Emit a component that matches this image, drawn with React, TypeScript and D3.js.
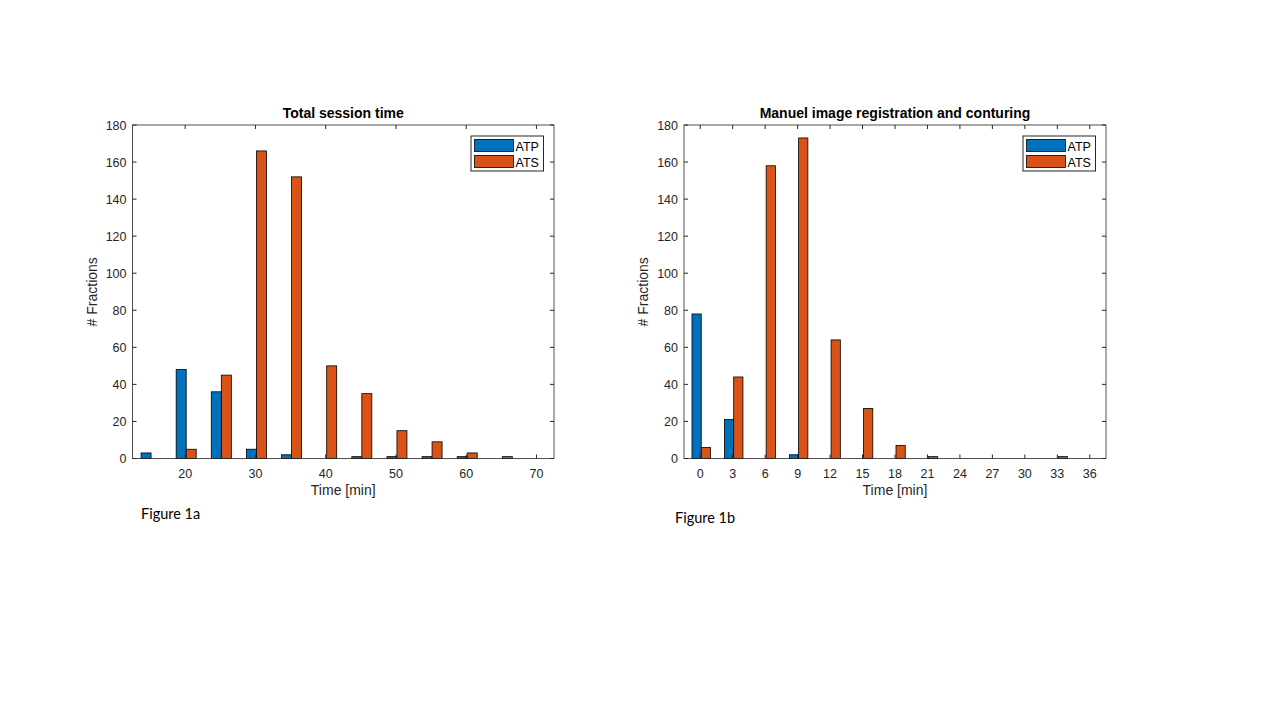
import * as d3 from 'd3';

const sessionBins = [15, 20, 25, 30, 35, 40, 45, 50, 55, 60, 65, 70];
const sessionATP = [3, 48, 36, 5, 2, 0, 1, 1, 1, 1, 0, 0];
const sessionATS = [0, 5, 45, 166, 152, 50, 35, 15, 9, 3, 1, 0];
const sessionTicks = [20, 30, 40, 50, 60, 70];

const manualBins = [0, 3, 6, 9, 12, 15, 18, 21, 24, 27, 30, 33, 36];
const manualATP = [78, 21, 0, 2, 0, 0, 0, 0, 0, 0, 0, 0, 0];
const manualATS = [6, 44, 158, 173, 64, 27, 7, 1, 0, 0, 0, 1, 0];
const manualTicks = [0, 3, 6, 9, 12, 15, 18, 21, 24, 27, 30, 33, 36];

const yTicks = [0, 20, 40, 60, 80, 100, 120, 140, 160, 180];
const seriesNames = ['ATP', 'ATS'];
const COLORS = ['#0072BD', '#D95319'];
const AXIS_COLOR = '#262626';
const FONT = '"Liberation Sans", Arial, Helvetica, sans-serif';

type PanelProps = {
    left: number;
    right: number;
    top: number;
    bottom: number;
    title: string;
    bins: number[];
    binWidth: number;
    atp: number[];
    ats: number[];
    ticks: number[];
    caption: string;
    captionX: number;
    captionY: number;
};

const Panel = ({ left, right, top, bottom, title, bins, binWidth, atp, ats, ticks, caption, captionX, captionY }: PanelProps) => {
    const x = d3
        .scaleLinear()
        .domain([bins[0] - binWidth / 2, bins[bins.length - 1] + binWidth / 2])
        .range([left, right]);
    const y = d3.scaleLinear().domain([0, 180]).range([bottom, top]);
    const barW = (x(binWidth) - x(0)) * 0.285;
    const TICK = 4;
    const midX = (left + right) / 2;

    const bars = [atp, ats].flatMap((vals, s) =>
        vals.map((v, i) => {
            const c = x(bins[i]) + 1;
            const x0 = s === 0 ? c - barW : c;
            return (
                <rect
                    key={`${s}-${i}`}
                    x={x0}
                    y={y(v)}
                    width={barW}
                    height={Math.max(0, y(0) - y(v))}
                    fill={COLORS[s]}
                    stroke="#000"
                    strokeWidth={0.8}
                />
            );
        })
    );

    const legX = right - 83;
    const legY = top + 11;

    return (
        <g fontFamily={FONT}>
            {bars}
            <rect x={left} y={top} width={right - left} height={bottom - top} fill="none" stroke={AXIS_COLOR} strokeWidth={0.8} />
            {ticks.map((t) => (
                <g key={`xt${t}`}>
                    <line x1={x(t)} x2={x(t)} y1={bottom} y2={bottom - TICK} stroke={AXIS_COLOR} />
                    <line x1={x(t)} x2={x(t)} y1={top} y2={top + TICK} stroke={AXIS_COLOR} />
                    <text x={x(t)} y={bottom + 19} textAnchor="middle" fontSize={12.5} fill={AXIS_COLOR}>
                        {t}
                    </text>
                </g>
            ))}
            {yTicks.map((t) => (
                <g key={`yt${t}`}>
                    <line x1={left} x2={left + TICK} y1={y(t)} y2={y(t)} stroke={AXIS_COLOR} />
                    <line x1={right} x2={right - TICK} y1={y(t)} y2={y(t)} stroke={AXIS_COLOR} />
                    <text x={left - 6} y={y(t) + 4.5} textAnchor="end" fontSize={12.5} fill={AXIS_COLOR}>
                        {t}
                    </text>
                </g>
            ))}
            <text x={midX} y={top - 7} textAnchor="middle" fontSize={14} fontWeight="bold" fill="#000">
                {title}
            </text>
            <text x={midX} y={bottom + 36} textAnchor="middle" fontSize={14} fill={AXIS_COLOR}>
                Time [min]
            </text>
            <text
                transform={`translate(${left - 36},${(top + bottom) / 2}) rotate(-90)`}
                textAnchor="middle"
                fontSize={14}
                fill={AXIS_COLOR}
            >
                # Fractions
            </text>
            <rect x={legX} y={legY} width={72.5} height={35} fill="#fff" stroke={AXIS_COLOR} strokeWidth={1} />
            {seriesNames.map((name, i) => (
                <g key={name}>
                    <rect x={legX + 3.5} y={legY + 3.5 + i * 16} width={39} height={12} fill={COLORS[i]} stroke="#000" strokeWidth={0.8} />
                    <text x={legX + 44.5} y={legY + 14.5 + i * 16} fontSize={12.5} fill="#000">
                        {name}
                    </text>
                </g>
            ))}
            <text x={captionX} y={captionY} fontSize={14.5} fontFamily="Lato, 'Open Sans', sans-serif" fill="#000">
                {caption}
            </text>
        </g>
    );
};

export default function App() {
    return (
        <svg width={1280} height={720} style={{ position: 'absolute', left: 0, top: 0, background: '#fff' }}>
            <Panel
                left={132.5}
                right={554}
                top={125}
                bottom={458.5}
                title="Total session time"
                bins={sessionBins}
                binWidth={5}
                atp={sessionATP}
                ats={sessionATS}
                ticks={sessionTicks}
                caption="Figure 1a"
                captionX={141}
                captionY={519}
            />
            <Panel
                left={684}
                right={1106}
                top={125}
                bottom={458.5}
                title="Manuel image registration and conturing"
                bins={manualBins}
                binWidth={3}
                atp={manualATP}
                ats={manualATS}
                ticks={manualTicks}
                caption="Figure 1b"
                captionX={675}
                captionY={523}
            />
        </svg>
    );
}
